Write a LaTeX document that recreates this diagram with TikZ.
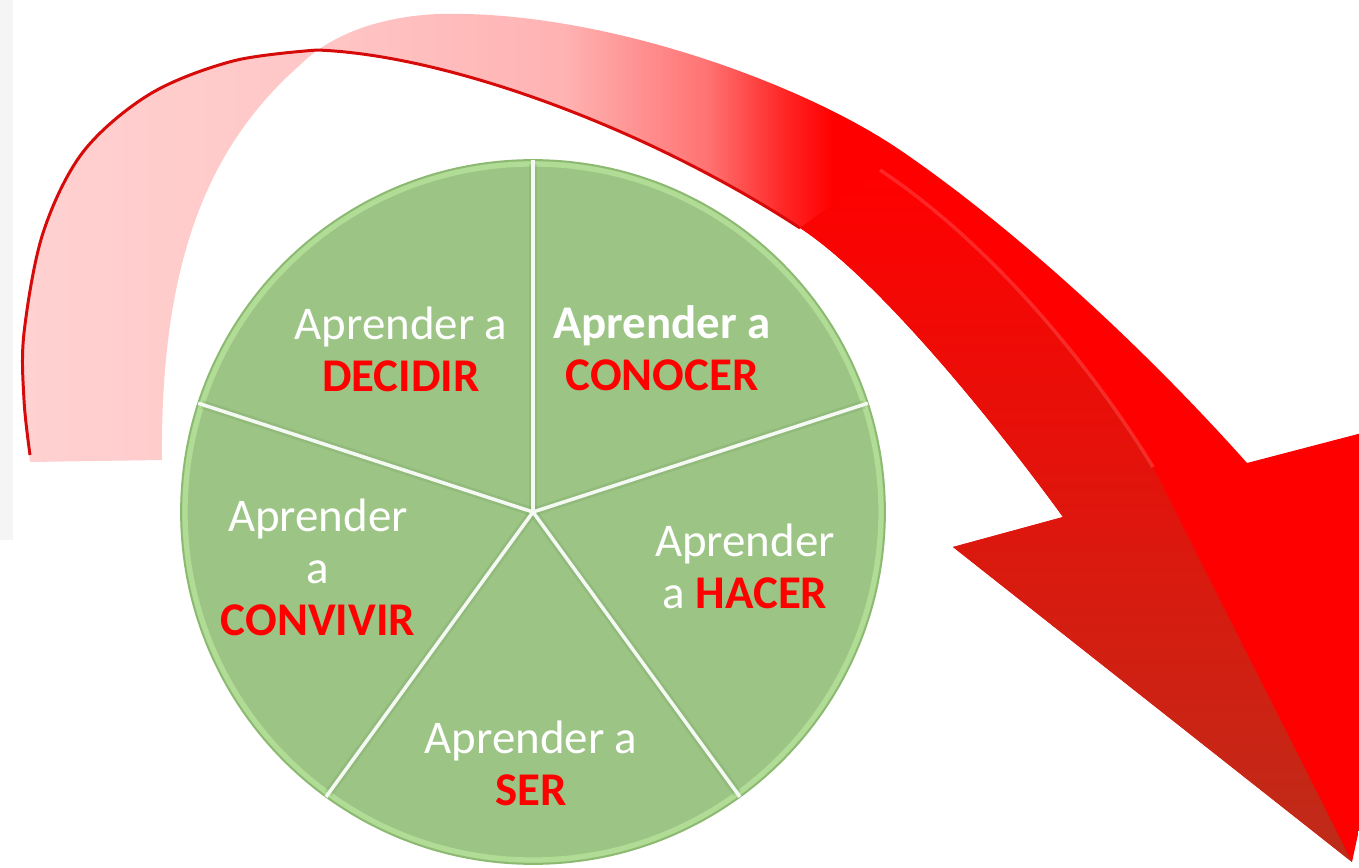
\documentclass[tikz,border=0pt]{standalone}
\usepackage{fontspec}
\setmainfont{Carlito}
\definecolor{pieGreen}{RGB}{156,197,133}
\definecolor{pieRim}{RGB}{176,220,150}
\definecolor{pieLine}{RGB}{140,185,112}
\definecolor{pieShade}{RGB}{110,150,90}
\definecolor{headDark}{RGB}{178,52,30}
\definecolor{edgeRed}{RGB}{215,10,10}
\definecolor{keyRed}{RGB}{255,0,0}
\pgfdeclarehorizontalshading{ribbon}{100bp}{color(0bp)=(red!18); color(25bp)=(red!18); color(35bp)=(red!22); color(44bp)=(red!30); color(49bp)=(red!55); color(51.7bp)=(red!85); color(53.4bp)=(red); color(100bp)=(red)}
\newcommand{\palabra}[1]{\textbf{\color{keyRed}#1}}
\begin{document}
\begin{tikzpicture}[x=0.02cm, y=-0.02cm,
  lbl/.style={text=white, align=center, inner sep=0pt, font=\fontsize{26.7}{29.6}\selectfont},
  divider/.style={draw=white!90!pieGreen, line width=2pt},
  bevel/.style={draw=pieShade, line width=5pt, opacity=.22}]
\useasboundingbox (0,0) rectangle (1359,868);
\clip (0,0) rectangle (1359,868);
\fill[black!4] (0,0) rectangle (13,540);
% the curved arrow
\shade[shading=ribbon] plot[smooth, tension=0.55] coordinates {(30,462) (24,400) (24,333) (43,233) (83,152) (150,94) (233,61) (317,50)}
  .. controls (450,55) and (650,130) .. (800,228)
  .. controls (880,280) and (1000,430) .. (1063,517)
  -- (953,547) -- (1352,862) -- (1450,410) -- (1247,463)
  .. controls (1140,343) and (1010,225) .. (900,150)
  .. controls (800,82) and (600,10) .. (440,14)
  .. controls (380,16) and (330,35) .. (300,65)
  .. controls (215,140) and (160,250) .. (162,460) -- cycle;
\shade[top color=red, middle color=headDark, bottom color=headDark!85!red] (800,228)
  .. controls (880,280) and (1000,430) .. (1063,517)
  -- (953,547) -- (1352,862) -- (1153,467)
  .. controls (1100,380) and (1000,250) .. (880,170) -- cycle;
\draw[white, opacity=.15, line width=2pt] (880,170) .. controls (1000,250) and (1100,380) .. (1153,467);
\draw[edgeRed, line width=1.7pt] plot[smooth, tension=0.55] coordinates {(30,455) (24,400) (24,333) (43,233) (83,152) (150,94) (233,61) (317,50)}
  .. controls (450,55) and (650,130) .. (800,228);
% the wheel
\coordinate (pie) at (533,512);
\fill[pieGreen] (pie) circle[radius=352];
\draw[pieRim, line width=3pt] (pie) circle[radius=348];
\draw[pieLine, line width=1pt] (pie) circle[radius=352];
\draw[bevel] (pie) -- +(-90:348);
\draw[bevel] (pie) -- +(-18:348);
\draw[bevel] (pie) -- +(54:348);
\draw[bevel] (pie) -- +(126:348);
\draw[bevel] (pie) -- +(198:348);
\draw[divider] (pie) -- +(-90:352);
\draw[divider] (pie) -- +(-18:352);
\draw[divider] (pie) -- +(54:352);
\draw[divider] (pie) -- +(126:352);
\draw[divider] (pie) -- +(198:352);
\node[lbl] (decidir) at (401,349) {Aprender a\\\palabra{DECIDIR}};
\node[lbl] (conocer) at (662,348) {\textbf{Aprender a}\\\palabra{CONOCER}};
\node[lbl] (hacer) at (745,566) {Aprender\\a \palabra{HACER}};
\node[lbl] (ser) at (531,763) {Aprender a\\\palabra{SER}};
\node[lbl] (convivir) at (318,567) {Aprender\\a\\\palabra{CONVIVIR}};
\end{tikzpicture}
\end{document}
